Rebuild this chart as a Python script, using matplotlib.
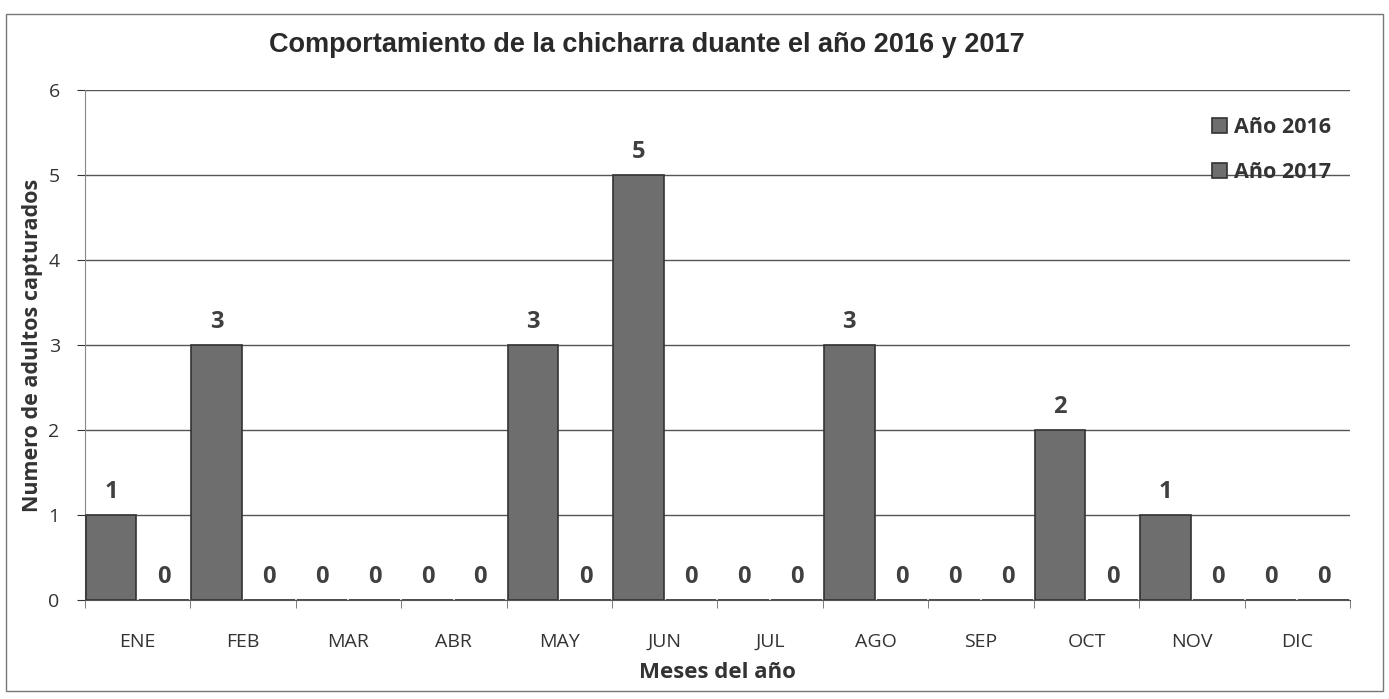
import matplotlib
matplotlib.use("Agg")
import matplotlib.pyplot as plt
import numpy as np
from matplotlib.patches import Rectangle

months = ["ENE", "FEB", "MAR", "ABR", "MAY", "JUN", "JUL", "AGO", "SEP", "OCT", "NOV", "DIC"]
y2016 = [1, 3, 0, 0, 3, 5, 0, 3, 0, 2, 1, 0]
y2017 = [0, 0, 0, 0, 0, 0, 0, 0, 0, 0, 0, 0]
series_names = ["Año 2016", "Año 2017"]

fig = plt.figure(figsize=(13.89, 6.99), dpi=100)
ax = fig.add_axes([0.061, 0.142, 0.911, 0.729])

x = np.arange(len(months))
w = 0.48
bar_color = "#6e6e6e"
b1 = ax.bar(x - 0.25, y2016, w, color=bar_color, edgecolor="#333333", linewidth=1.2, label=series_names[0], zorder=3)
b2 = ax.bar(x + 0.25, y2017, w, color=bar_color, edgecolor="#333333", linewidth=1.2, label=series_names[1], zorder=3)

lab_font = dict(fontsize=17, fontweight="bold", color="#404040", family="Open Sans")
for xi, v in zip(x - 0.25, y2016):
    ax.text(xi, v + 0.13, str(v), ha="center", va="bottom", **lab_font)
for xi, v in zip(x + 0.25, y2017):
    ax.text(xi, v + 0.13, str(v), ha="center", va="bottom", **lab_font)

ax.set_ylim(0, 6)
ax.set_xlim(-0.5, 11.5)
ax.set_yticks(range(0, 7))
ax.yaxis.grid(True, color="#555555", linewidth=1.0, zorder=0)
ax.set_axisbelow(True)
for s in ["top", "right"]:
    ax.spines[s].set_visible(False)
ax.spines["left"].set_color("#888888")
ax.spines["bottom"].set_color("#555555")
ax.set_xticks(x)
ax.set_xticklabels(months, family="Open Sans", fontsize=14, color="#333333")
ax.tick_params(axis="x", length=0, pad=24)
ax.set_xticks(np.arange(-0.5, 12, 1), minor=True)
ax.tick_params(axis="x", which="minor", length=6, color="#666666")
ax.tick_params(axis="y", labelsize=14, colors="#333333", length=6, pad=12)
for t in ax.get_yticklabels():
    t.set_family("Open Sans")

ax.set_xlabel("Meses del año", fontsize=16, fontweight="bold", color="#333333", family="Open Sans", labelpad=8)
ax.set_ylabel("Numero de adultos capturados", fontsize=15.5, fontweight="bold", color="#333333", family="Open Sans", labelpad=4)
fig.text(0.466, 0.935, "Comportamiento de la chicharra duante el año 2016 y 2017", ha="center", va="center",
         fontsize=19.5, fontweight="bold", color="#2a2a2a", family="Liberation Sans")

leg = ax.legend(loc="upper right", bbox_to_anchor=(1.0, 0.985), frameon=False,
                prop=dict(family="Open Sans", weight="bold", size=15.5),
                handlelength=0.7, handleheight=0.7, handletextpad=0.3, labelspacing=1.1, labelcolor="#333333")

fig.patches.append(Rectangle((0.004, 0.012), 0.992, 0.968, transform=fig.transFigure,
                             fill=False, edgecolor="#777777", linewidth=1.0))

fig.savefig("out.png", dpi=100, facecolor="white")
